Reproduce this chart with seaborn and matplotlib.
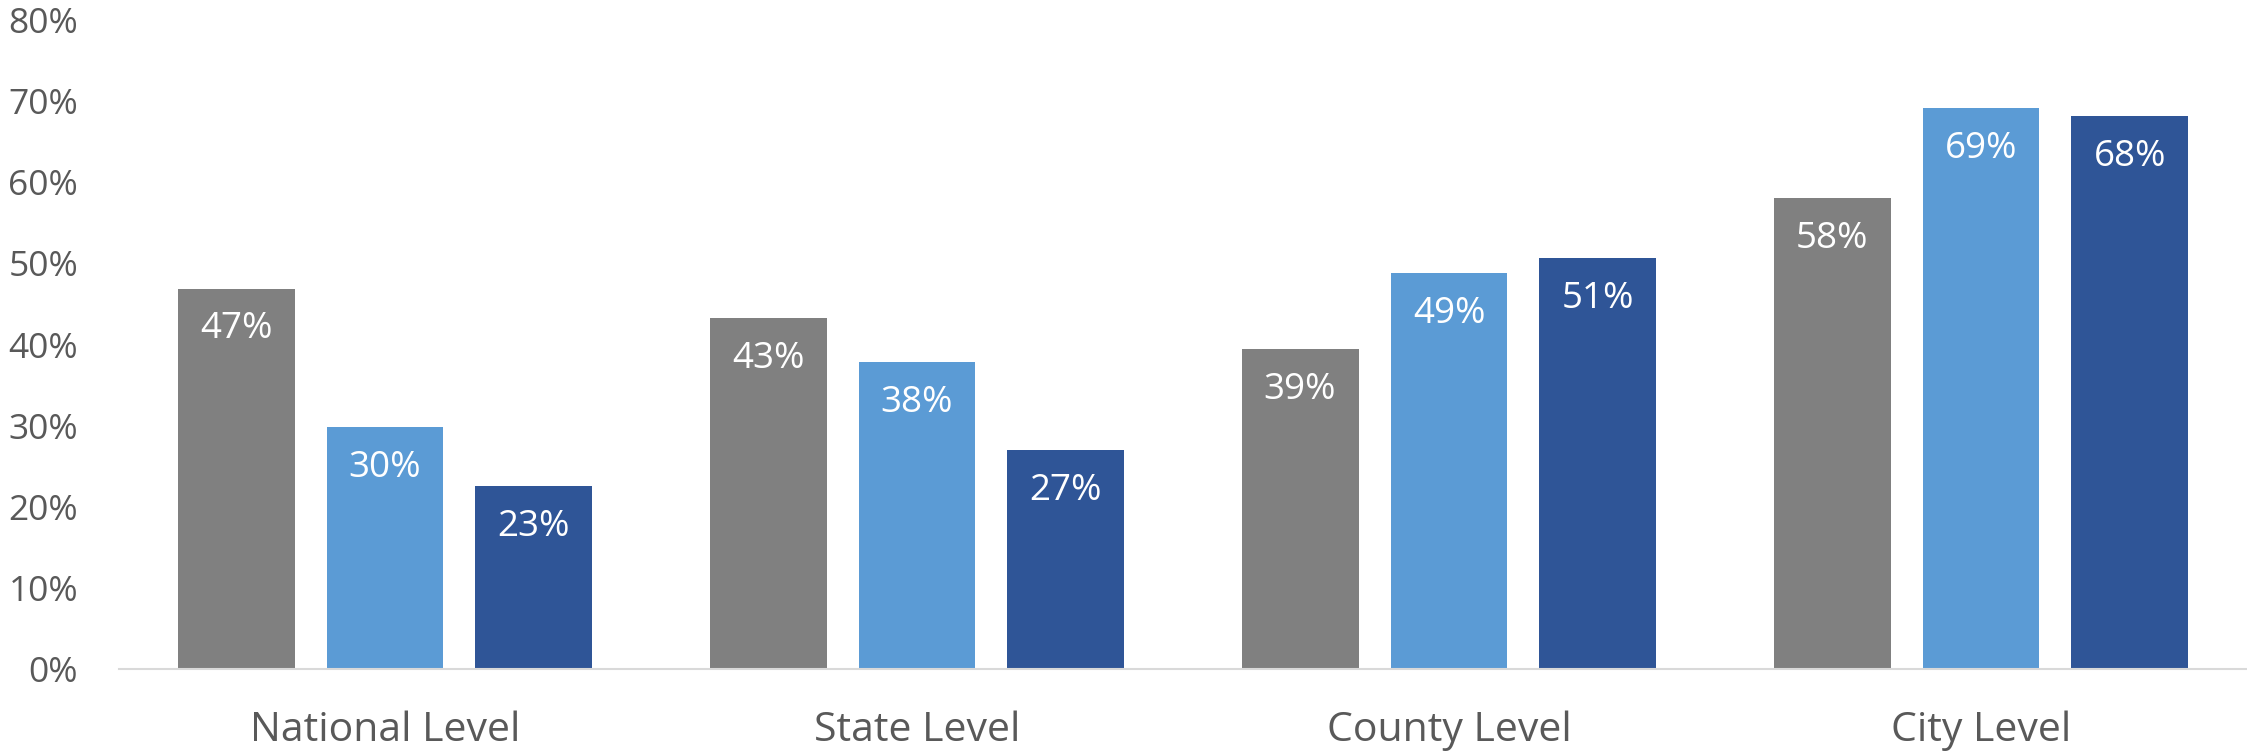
import matplotlib
matplotlib.use("Agg")
import matplotlib.pyplot as plt
import seaborn as sns
import pandas as pd
from matplotlib.ticker import PercentFormatter, MultipleLocator

categories = ["National Level", "State Level", "County Level", "City Level"]
series_names = ["Series A", "Series B", "Series C"]
series_a = [46.9, 43.3, 39.4, 58.1]
series_b = [29.8, 37.8, 48.8, 69.1]
series_c = [22.6, 27.0, 50.7, 68.2]
colors = ["#808080", "#5B9BD5", "#2F5597"]

rows = []
for name, vals in zip(series_names, [series_a, series_b, series_c]):
    for cat, v in zip(categories, vals):
        rows.append({"category": cat, "series": name, "value": v})
df = pd.DataFrame(rows)

sns.set_theme(style="white")
plt.rcParams["font.family"] = ["Open Sans", "DejaVu Sans"]

fig = plt.figure(figsize=(22.47, 7.54), dpi=100)
ax = fig.add_axes([119 / 2247, 85 / 754, 1 - 119 / 2247, (669 - 20) / 754])

sns.barplot(data=df, x="category", y="value", hue="series", order=categories,
            hue_order=series_names, palette=colors, width=0.84, gap=0.215,
            saturation=1, legend=False, ax=ax, edgecolor="none", linewidth=0)

for cont in ax.containers:
    for bar in cont:
        h = bar.get_height()
        ax.annotate(f"{h:.0f}%", (bar.get_x() + bar.get_width() / 2, h),
                    xytext=(0, -29.5), textcoords="offset points",
                    ha="center", va="center", color="white", fontsize=26.5)

ax.set_ylim(0, 80)
ax.set_xlim(-0.5, 3.5)
ax.yaxis.set_major_locator(MultipleLocator(10))
ax.yaxis.set_major_formatter(PercentFormatter(100, decimals=0))
ax.set_xlabel("")
ax.set_ylabel("")
for s in ["left", "top", "right"]:
    ax.spines[s].set_visible(False)
ax.spines["bottom"].set_color("#d9d9d9")
ax.spines["bottom"].set_linewidth(1.5)
ax.tick_params(axis="y", length=0, pad=29.5, labelsize=25.5, labelcolor="#595959")
ax.tick_params(axis="x", length=0, pad=30, labelsize=29.5, labelcolor="#595959")
ax.grid(False)

fig.savefig("out.png", dpi=100)
